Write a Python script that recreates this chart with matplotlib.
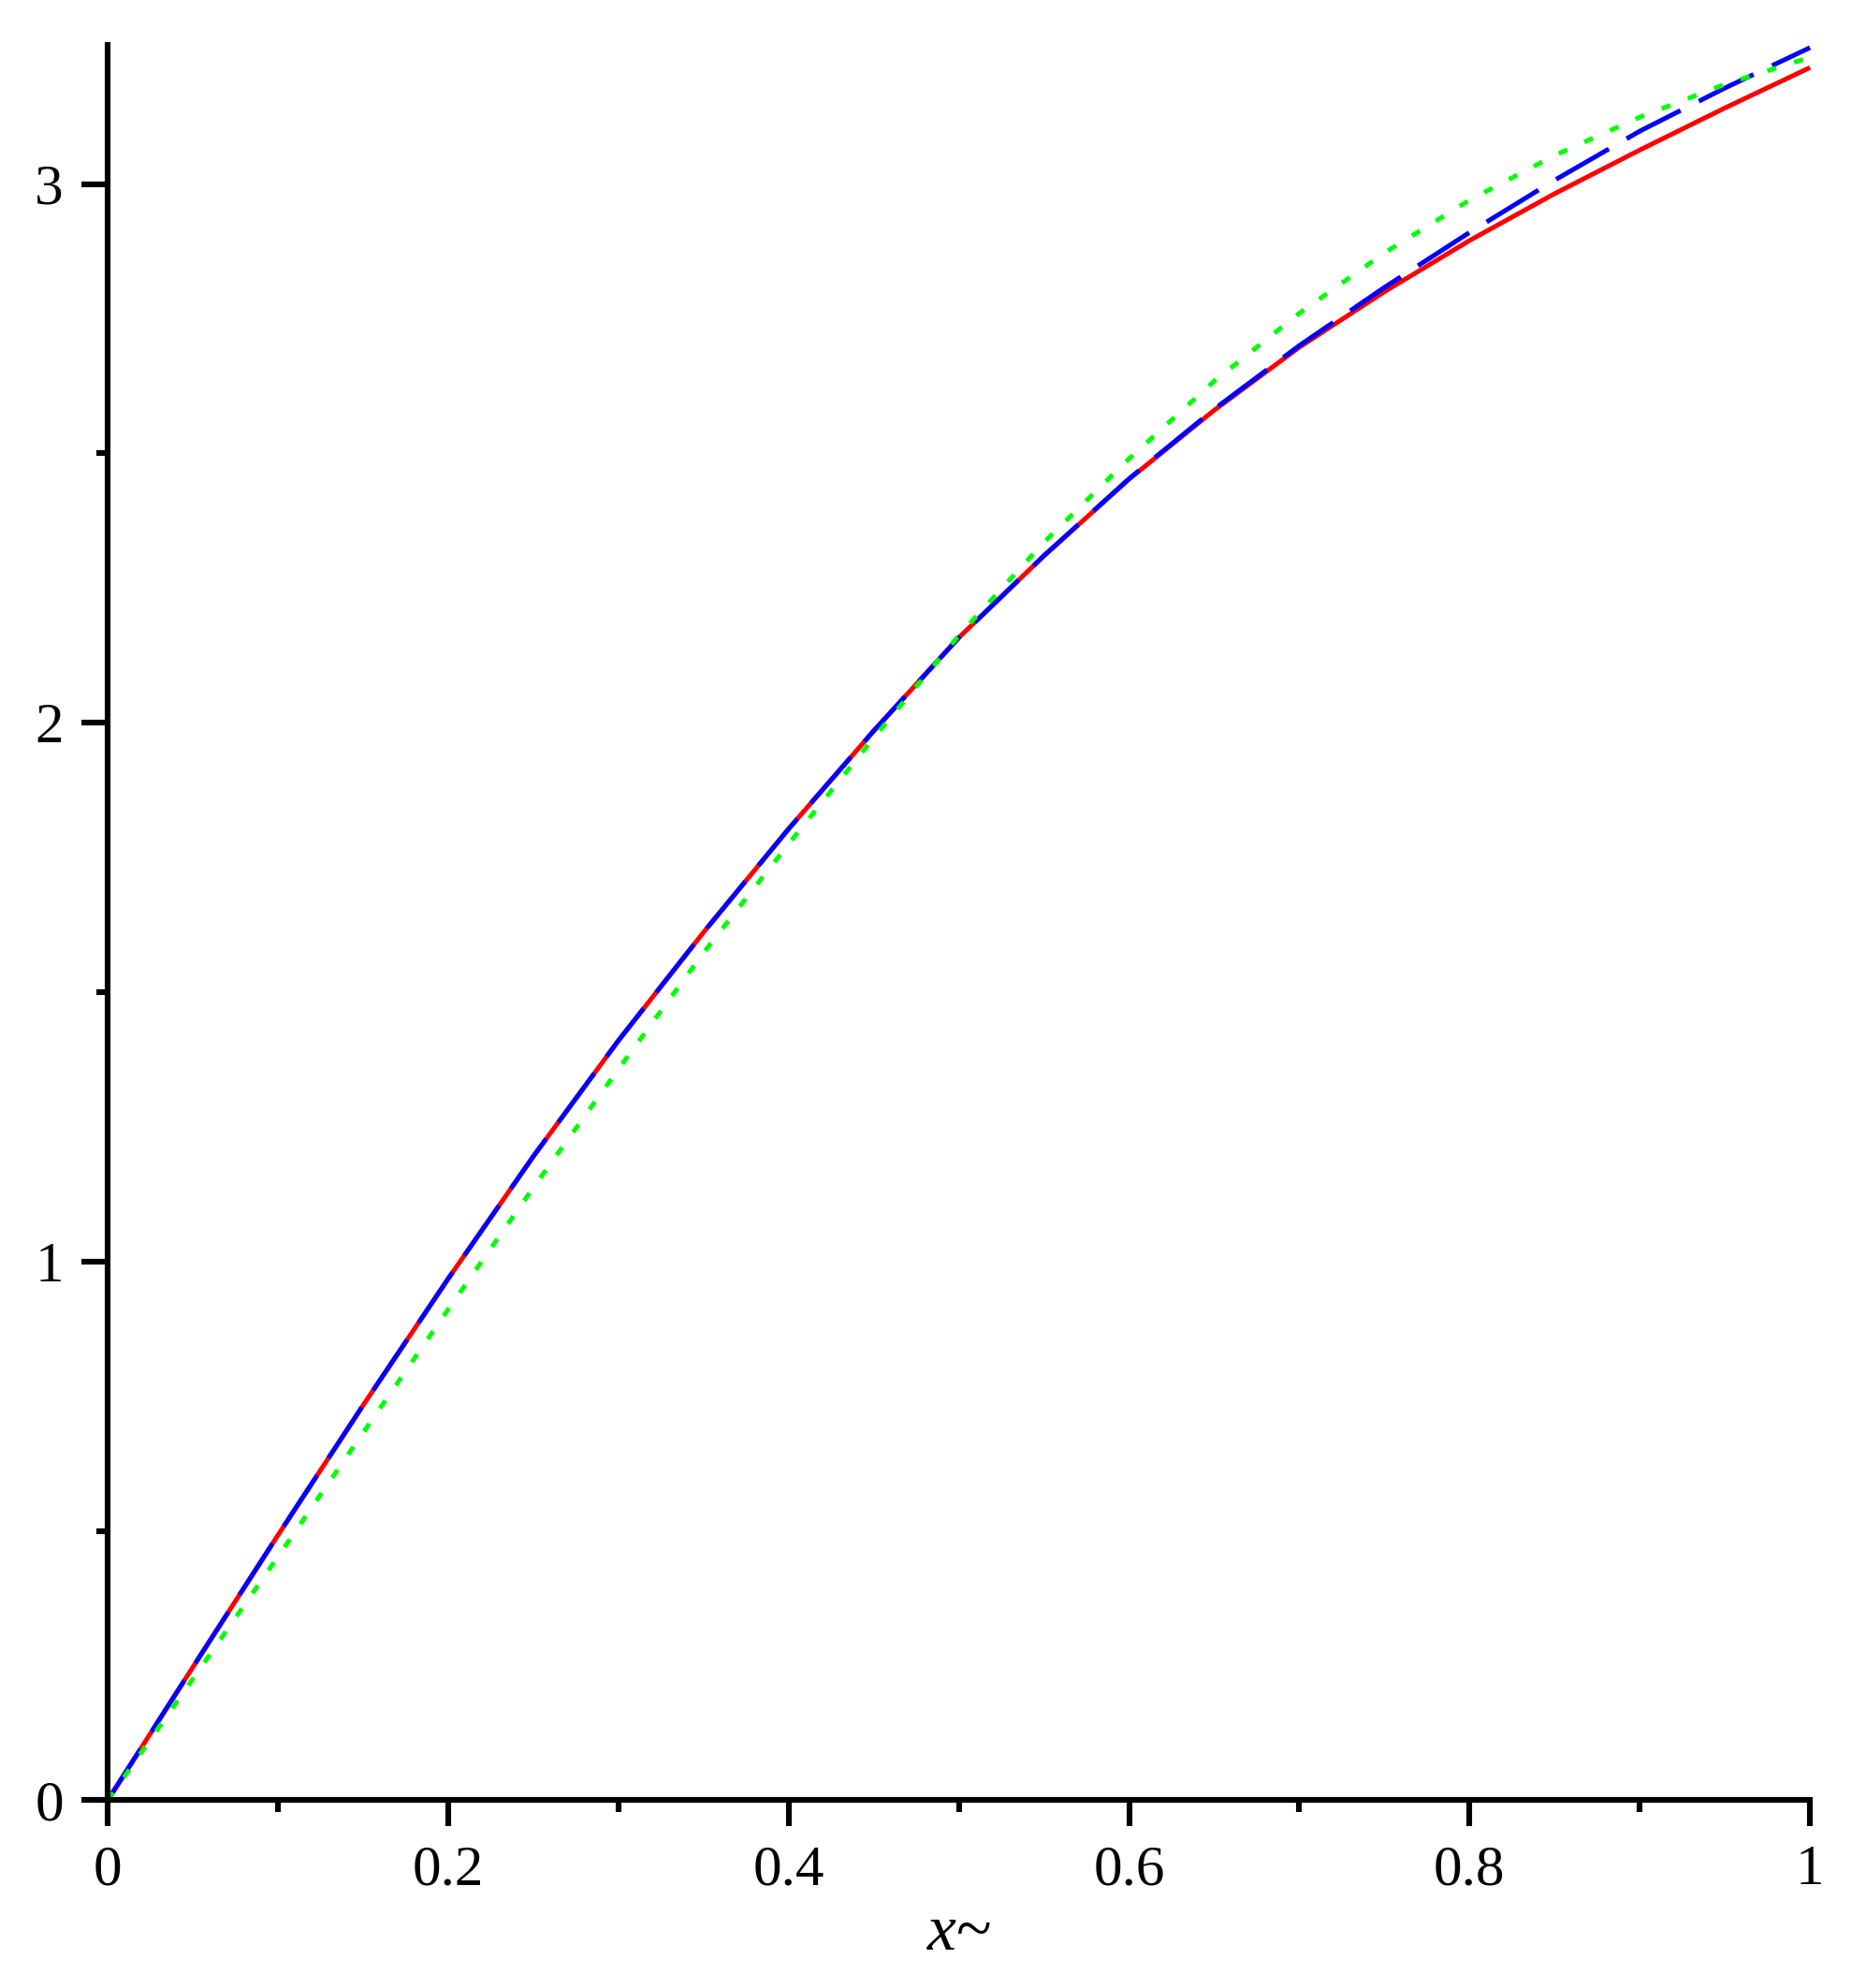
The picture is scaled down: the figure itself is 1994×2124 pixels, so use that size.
import matplotlib
matplotlib.use("Agg")
import matplotlib.pyplot as plt
from matplotlib.ticker import MultipleLocator

# ---------------------------
# Values
# ---------------------------
x_vals = [0.0, 0.05, 0.1, 0.15, 0.2, 0.25, 0.3, 0.35, 0.4, 0.45, 0.5,
          0.55, 0.6, 0.65, 0.7, 0.75, 0.8, 0.85, 0.9, 0.95, 1.0]

red_vals = [0.0, 0.247, 0.492, 0.733, 0.968, 1.195, 1.410, 1.611, 1.803, 1.985, 2.158,
            2.310, 2.452, 2.580, 2.697, 2.800, 2.895, 2.982, 3.063, 3.141, 3.216]

blue_vals = [0.0, 0.247, 0.492, 0.733, 0.968, 1.195, 1.410, 1.611, 1.803, 1.985, 2.158,
             2.310, 2.453, 2.582, 2.700, 2.808, 2.910, 3.007, 3.098, 3.178, 3.253]

green_vals = [0.0, 0.225, 0.452, 0.682, 0.911, 1.137, 1.357, 1.573, 1.775, 1.972, 2.162,
              2.335, 2.490, 2.634, 2.760, 2.872, 2.970, 3.053, 3.124, 3.185, 3.235]

x_ticks = [0, 0.2, 0.4, 0.6, 0.8, 1]
x_ticklabels = ["0", "0.2", "0.4", "0.6", "0.8", "1"]
y_ticks = [0, 1, 2, 3]
y_ticklabels = ["0", "1", "2", "3"]

plt.rcParams["font.family"] = ["Liberation Serif", "DejaVu Serif"]
plt.rcParams["mathtext.fontset"] = "custom"
plt.rcParams["mathtext.it"] = "Liberation Serif:italic"
plt.rcParams["mathtext.rm"] = "Liberation Serif"

fig = plt.figure(figsize=(9.97, 10.62), dpi=200)
ax = fig.add_axes([0.0577, 0.0944, 0.9123, 0.883])

lw = 1.8
ax.plot(x_vals, red_vals, color="#ff0000", lw=lw, solid_capstyle="butt", clip_on=False)
ax.plot(x_vals, blue_vals, color="#0000ff", lw=lw, dashes=(13, 4.4), clip_on=False)
ax.plot(x_vals, green_vals, color="#00ff00", lw=lw, dashes=(2, 4), clip_on=False)

ax.set_xlim(0, 1)
ax.set_ylim(0, 3.258)

for side in ["top", "right"]:
    ax.spines[side].set_visible(False)
for side in ["left", "bottom"]:
    ax.spines[side].set_linewidth(2.2)

ax.set_xticks(x_ticks)
ax.set_xticklabels(x_ticklabels)
ax.set_yticks(y_ticks)
ax.set_yticklabels(y_ticklabels)
ax.xaxis.set_minor_locator(MultipleLocator(0.1))
ax.yaxis.set_minor_locator(MultipleLocator(0.5))

ax.tick_params(which="major", direction="out", length=10, width=2.2,
               labelsize=22, pad=7)
ax.tick_params(which="minor", direction="out", length=4.5, width=2.2)

ax.set_xlabel("$x$~", fontsize=25, labelpad=3)

fig.savefig("out.png", dpi=200)
